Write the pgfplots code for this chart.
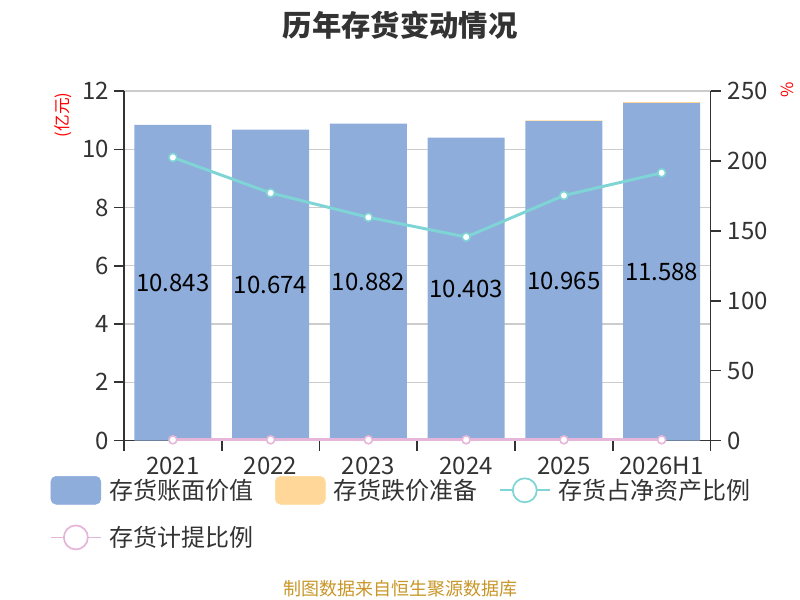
\documentclass[border=0pt]{standalone}
\usepackage{pgfplots}
\usepackage{pgfplotstable}
\pgfplotsset{compat=1.18}
\usepackage{fontspec}
\setmainfont{Noto Sans CJK SC}
\definecolor{barblue}{RGB}{142,173,219}
\definecolor{barorange}{RGB}{255,216,153}
\definecolor{lteal}{RGB}{127,213,213}
\definecolor{lpink}{RGB}{230,182,218}
\definecolor{txt}{RGB}{51,51,51}
\definecolor{gridc}{RGB}{204,204,204}
\definecolor{foot}{RGB}{200,150,40}
\pgfplotstableread{
x val half lab res
0 10.843 5.4215 10.843 0
1 10.674 5.337 10.674 0
2 10.882 5.441 10.882 0
3 10.403 5.2015 10.403 0
4 10.965 5.4825 10.965 0.03
5 11.588 5.794 11.588 0.03
}\bars
\pgfplotstableread{
x ratio prov
0 202.5 0.5
1 177.1 0.5
2 159.7 0.5
3 145.6 0.5
4 175.3 0.5
5 191.5 0.5
}\lines
\tikzset{bigfont/.style={font=\fontsize{18pt}{21pt}\selectfont}}
\pgfplotsset{
  common/.style={
    at={(93pt,119.6pt)}, anchor=south west, scale only axis,
    width=439.9pt, height=262.1pt,
    xmin=-0.5, xmax=5.5,
  },
}
\begin{document}
\begin{tikzpicture}
\path[use as bounding box] (0,0) rectangle (600pt,450pt);
% bars
\begin{axis}[common,
  ymin=0, ymax=12,
  axis x line*=bottom, axis y line*=left,
  axis line style={txt, line width=1.2pt, -},
  xtick={-0.5,0.5,...,5.5}, x tick label as interval,
  xticklabels={2021,2022,2023,2024,2025,2026H1},
  xticklabel style={yshift=-1.5pt},
  ytick={0,2,...,12},
  ymajorgrids, grid style={gridc, line width=1pt},
  major tick style={txt, line width=1.2pt},
  tick align=outside, major tick length=7.5pt,
  tick label style={bigfont, text=txt},
  /pgf/number format/assume math mode=true,
  ybar stacked, bar width=57.75pt,
]
\addplot[fill=barblue, draw=none] table[x=x, y=val] {\bars};
\addplot[fill=barorange, draw=none] table[x=x, y=res] {\bars};
\end{axis}
% labels
\begin{axis}[common, ymin=0, ymax=12, hide axis]
\addplot[only marks, mark=none, nodes near coords, point meta=explicit symbolic,
  every node near coord/.append style={anchor=center, bigfont, text=black}]
  table[x=x, y=half, meta=lab] {\bars};
\end{axis}
% lines
\begin{axis}[common,
  ymin=0, ymax=250,
  axis x line=none, axis y line*=right,
  axis line style={txt, line width=1.2pt, -},
  ytick={0,50,...,250},
  major tick style={txt, line width=1.2pt},
  tick align=outside, major tick length=7.5pt,
  tick label style={bigfont, text=txt},
  yticklabel style={xshift=2pt},
  /pgf/number format/assume math mode=true,
  legend columns=3, legend cell align=left,
  legend style={at={(-0.1262,-0.1016)}, anchor=north west, draw=none, fill=none,
    inner sep=0pt, outer sep=0pt, bigfont, text=txt,
    nodes={inner sep=0pt, anchor=west},
    column sep=0pt, row sep=15pt,
    /tikz/every odd column/.append style={column sep=6pt},
    /tikz/every even column/.append style={column sep=16pt}},
]
\addlegendimage{legend image code/.code={\fill[barblue, rounded corners=4pt] (0pt,-10.5pt) rectangle (37.5pt,10.5pt);}}
\addlegendentry{存货账面价值}
\addlegendimage{legend image code/.code={\fill[barorange, rounded corners=4pt] (0pt,-10.5pt) rectangle (37.5pt,10.5pt);}}
\addlegendentry{存货跌价准备}
\addplot[lteal, line width=2.2pt, mark=*, mark size=3pt,
  mark options={fill=white, draw=lteal, line width=1.2pt},
  legend image code/.code={\draw[lteal, line width=1.3pt] (0pt,0pt)--(37.5pt,0pt); \draw[lteal, line width=1.3pt, fill=white] (18.75pt,0pt) circle (9pt);}]
  table[x=x, y=ratio] {\lines};
\addlegendentry{存货占净资产比例}
\addplot[lpink, line width=2.2pt, mark=*, mark size=3pt,
  mark options={fill=white, draw=lpink, line width=1.2pt},
  legend image code/.code={\draw[lpink, line width=1.3pt] (0pt,0pt)--(37.5pt,0pt); \draw[lpink, line width=1.3pt, fill=white] (18.75pt,0pt) circle (9pt);}]
  table[x=x, y=prov] {\lines};
\addlegendentry{存货计提比例}
\end{axis}
\node[red, rotate=90, font=\fontsize{12.5pt}{14pt}\selectfont] at (47.25pt,363.75pt) {(亿元)};
\node[red, rotate=90, font=\fontsize{12.5pt}{14pt}\selectfont] at (590.25pt,382.5pt) {\%};
\node[txt, font=\fontsize{22pt}{26pt}\selectfont\bfseries] at (300pt,431.25pt) {历年存货变动情况};
\node[foot, font=\fontsize{13.5pt}{16pt}\selectfont] at (300pt,8.25pt) {制图数据来自恒生聚源数据库};
\end{tikzpicture}
\end{document}
